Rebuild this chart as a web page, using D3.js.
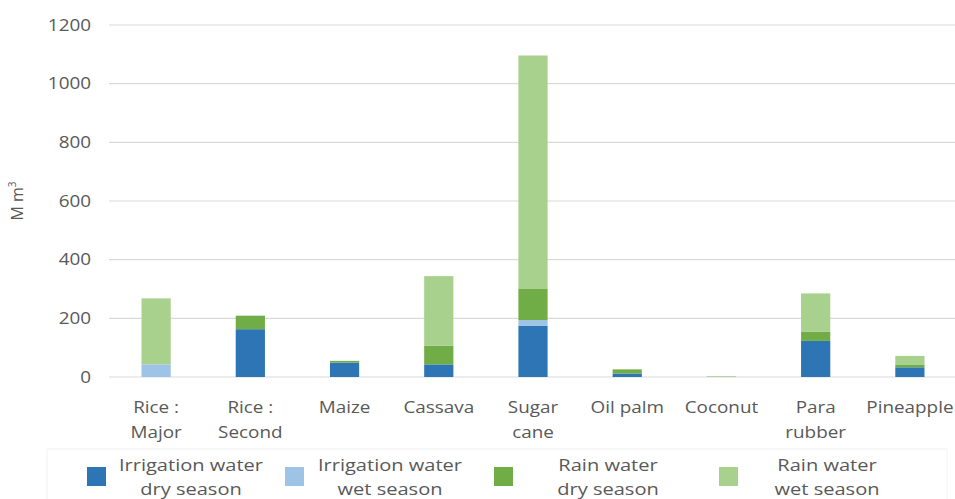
<!DOCTYPE html>
<html><head><meta charset="utf-8">
<script src="https://cdn.jsdelivr.net/npm/d3@7"></script>
<style>
body{margin:0;background:#fff;}
text{font-family:"Open Sans",sans-serif;fill:#595959;}
</style></head>
<body><svg id="c" width="955" height="499"></svg>
<script>
const categories = [["Rice :","Major"],["Rice :","Second"],["Maize"],["Cassava"],["Sugar","cane"],["Oil palm"],["Coconut"],["Para","rubber"],["Pineapple"]];
const seriesNames = [["Irrigation water","dry season"],["Irrigation water","wet season"],["Rain water","dry season"],["Rain water","wet season"]];
const irrigationDry = [0,163,49,43,174,12,0,123,33];
const irrigationWet = [43,0,0,0,20,0,0,0,0];
const rainDry = [0,46,6,64,108,14,1,32,8];
const rainWet = [225,0,0,237,794,0,2,130,31];
const yTicks = [0,200,400,600,800,1000,1200];
const colors = ["#2e75b6","#9dc3e6","#70ad47","#a9d18e"];
const SX = 1.18;

const svg = d3.select("#c");
const x = d3.scaleBand().domain(d3.range(categories.length)).range([109,957]).paddingInner(0.69).paddingOuter(0.345);
const y = d3.scaleLinear().domain([0,1200]).range([377,25]);

// grid
svg.append("g").selectAll("line").data(yTicks).join("line")
  .attr("x1",109).attr("x2",955).attr("y1",d=>y(d)).attr("y2",d=>y(d))
  .attr("stroke","#d9d9d9").attr("stroke-width",1.2);
// y axis labels
const yAxis = svg.append("g").attr("transform","translate(91,0)")
  .call(d3.axisLeft(y).tickValues(yTicks).tickFormat(d3.format("d")).tickSize(0).tickPadding(0));
yAxis.select(".domain").remove();
yAxis.selectAll("text").attr("font-size",16).attr("font-family","Open Sans").attr("fill","#595959")
  .attr("x",0).attr("transform",`scale(${SX},1)`);

const rows = categories.map((c,i)=>({i, v:[irrigationDry[i],irrigationWet[i],rainDry[i],rainWet[i]]}));
const stack = d3.stack().keys([0,1,2,3]).value((d,k)=>d.v[k]);
const layers = stack(rows);
svg.append("g").selectAll("g").data(layers).join("g").attr("fill",(d,k)=>colors[k])
  .selectAll("rect").data(d=>d).join("rect")
  .attr("x",d=>x(d.data.i)).attr("width",x.bandwidth())
  .attr("y",d=>y(d[1])).attr("height",d=>Math.max(0,y(d[0])-y(d[1])));

// x labels
const xl = svg.append("g").selectAll("text").data(categories).join("text")
  .attr("text-anchor","middle").attr("font-size",16)
  .attr("transform",(d,i)=>`translate(${x(i)+x.bandwidth()/2},413) scale(${SX},1)`);
xl.selectAll("tspan").data(d=>d).join("tspan")
  .attr("x",0).attr("dy",(d,j)=>j===0?0:25).text(d=>d);

// y title
svg.append("text").attr("transform","translate(23,201) rotate(-90)").attr("text-anchor","middle")
  .attr("font-size",16).html('M m<tspan font-size="10" dy="-7">3</tspan>');

// legend
svg.append("rect").attr("x",47).attr("y",449).attr("width",900).attr("height",60)
  .attr("fill","none").attr("stroke","#f2f2f2");
const legX = [87,285,494,719];
const legTX = [191,390,608,827];
const lg = svg.append("g").selectAll("g").data(seriesNames).join("g");
lg.append("rect").attr("x",(d,i)=>legX[i]).attr("y",467).attr("width",19).attr("height",19)
  .attr("fill",(d,i)=>colors[i]);
const lt = lg.append("text").attr("text-anchor","middle").attr("font-size",17)
  .attr("transform",(d,i)=>`translate(${legTX[i]},471) scale(${SX},1)`);
lt.selectAll("tspan").data(d=>d).join("tspan")
  .attr("x",0).attr("dy",(d,j)=>j===0?0:24).text(d=>d);
</script></body></html>
